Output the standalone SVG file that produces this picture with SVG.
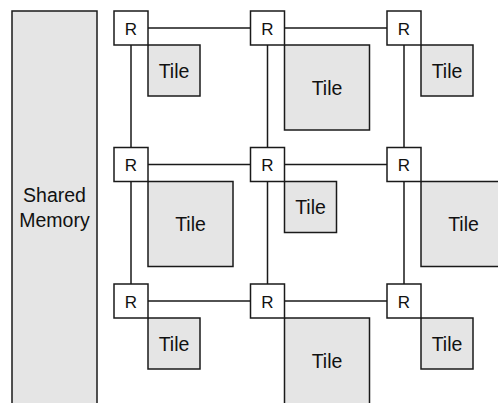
<svg xmlns="http://www.w3.org/2000/svg" width="498" height="403" viewBox="0 0 498 403">
<style>
.mem{fill:#e5e5e5;stroke:#1a1a1a;stroke-width:1.5}
.tile{fill:#e5e5e5;stroke:#1a1a1a;stroke-width:1.5}
.r{fill:#ffffff;stroke:#1a1a1a;stroke-width:1.5}
.ln{stroke:#1a1a1a;stroke-width:1.5;fill:none}
text{font-family:"Liberation Sans",Arial,sans-serif;fill:#111;text-anchor:middle}
.rt{font-size:17px}
.tt{font-size:19.5px}
</style>
<rect width="498" height="403" fill="#ffffff"/>
<g id="shared-memory">
<rect class="mem" x="12" y="11" width="85" height="400"/>
<text class="tt" x="54.5" y="202">Shared</text>
<text class="tt" x="54.5" y="226.5">Memory</text>
</g>
<g id="connectors">
<path class="ln" d="M148 28H250.5M284.5 28H387M148 164.5H250.5M284.5 164.5H387M148 301H250.5M284.5 301H387"/>
<path class="ln" d="M131 45V147.5M131 181.5V284M267.5 45V147.5M267.5 181.5V284M404 45V147.5M404 181.5V284"/>
</g>
<g id="tile-1-1"><rect class="tile" x="148" y="45" width="52" height="51"/><text class="tt" x="174" y="77.5">Tile</text></g>
<g id="tile-1-2"><rect class="tile" x="284.5" y="45" width="85" height="85"/><text class="tt" x="327" y="94.5">Tile</text></g>
<g id="tile-1-3"><rect class="tile" x="421" y="45" width="52" height="51"/><text class="tt" x="447" y="77.5">Tile</text></g>
<g id="tile-2-1"><rect class="tile" x="148" y="181.5" width="85" height="85"/><text class="tt" x="190.5" y="231">Tile</text></g>
<g id="tile-2-2"><rect class="tile" x="284.5" y="181.5" width="52" height="51"/><text class="tt" x="310.5" y="214">Tile</text></g>
<g id="tile-2-3"><rect class="tile" x="421" y="181.5" width="85" height="85"/><text class="tt" x="463.5" y="231">Tile</text></g>
<g id="tile-3-1"><rect class="tile" x="148" y="318" width="52" height="51"/><text class="tt" x="174" y="350.5">Tile</text></g>
<g id="tile-3-2"><rect class="tile" x="284.5" y="318" width="85" height="90"/><text class="tt" x="327" y="367.5">Tile</text></g>
<g id="tile-3-3"><rect class="tile" x="421" y="318" width="52" height="51"/><text class="tt" x="447" y="350.5">Tile</text></g>
<g id="router-1-1"><rect class="r" x="114" y="11" width="34" height="34"/><text class="rt" x="131" y="34.5">R</text></g>
<g id="router-1-2"><rect class="r" x="250.5" y="11" width="34" height="34"/><text class="rt" x="267.5" y="34.5">R</text></g>
<g id="router-1-3"><rect class="r" x="387" y="11" width="34" height="34"/><text class="rt" x="404" y="34.5">R</text></g>
<g id="router-2-1"><rect class="r" x="114" y="147.5" width="34" height="34"/><text class="rt" x="131" y="171">R</text></g>
<g id="router-2-2"><rect class="r" x="250.5" y="147.5" width="34" height="34"/><text class="rt" x="267.5" y="171">R</text></g>
<g id="router-2-3"><rect class="r" x="387" y="147.5" width="34" height="34"/><text class="rt" x="404" y="171">R</text></g>
<g id="router-3-1"><rect class="r" x="114" y="284" width="34" height="34"/><text class="rt" x="131" y="307.5">R</text></g>
<g id="router-3-2"><rect class="r" x="250.5" y="284" width="34" height="34"/><text class="rt" x="267.5" y="307.5">R</text></g>
<g id="router-3-3"><rect class="r" x="387" y="284" width="34" height="34"/><text class="rt" x="404" y="307.5">R</text></g>
</svg>
